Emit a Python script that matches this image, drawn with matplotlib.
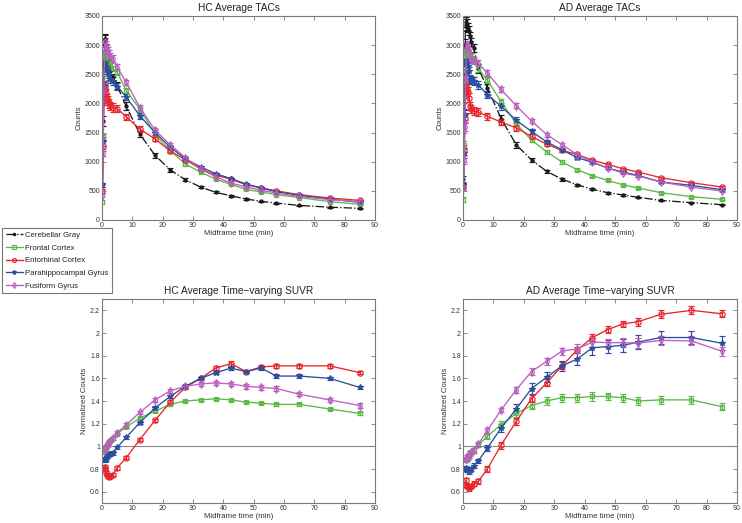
import matplotlib
matplotlib.use("Agg")
import matplotlib.pyplot as plt
from matplotlib.ticker import FuncFormatter

plt.rcParams['font.family'] = ['Liberation Sans', 'DejaVu Sans']

# ---------------- data ----------------
regions = ["Cerebellar Gray", "Frontal Cortex", "Entorhinal Cortex",
           "Parahippocampal Gyrus", "Fusiform Gyrus"]

t_tac = [0.125, 0.375, 0.625, 0.875, 1.125, 1.375, 1.625, 1.875, 2.25, 2.75,
         3.5, 5, 8, 12.5, 17.5, 22.5, 27.5, 32.5, 37.5, 42.5, 47.5, 52.5,
         57.5, 65, 75, 85]
t_suvr = [0.875, 1.125, 1.375, 1.625, 1.875, 2.25, 2.75, 3.5, 5, 8, 12.5,
          17.5, 22.5, 27.5, 32.5, 37.5, 42.5, 47.5, 52.5, 57.5, 65, 75, 85]

# HC TACs
hc_cer = [600, 1700, 2700, 3100, 3100, 2950, 2800, 2750, 2650, 2550, 2450, 2300, 1950,
          1470, 1110, 860, 690, 565, 475, 415, 360, 320, 290, 250, 220, 200]
hc_fro = [310, 1420, 2500, 2800, 2850, 2800, 2750, 2700, 2680, 2650, 2600, 2540, 2220,
          1900, 1470, 1190, 960, 820, 700, 610, 525, 480, 435, 385, 315, 270]
hc_ent = [500, 1270, 2050, 2300, 2250, 2180, 2100, 2050, 2000, 1960, 1930, 1910, 1770,
          1560, 1390, 1185, 1035, 875, 770, 700, 606, 550, 500, 435, 377, 337]
hc_par = [600, 1350, 2300, 2650, 2700, 2650, 2580, 2540, 2480, 2420, 2380, 2290, 2110,
          1785, 1500, 1250, 1050, 910, 795, 710, 618, 549, 486, 423, 360, 303]
hc_fus = [420, 1150, 2250, 2900, 3050, 3000, 2950, 2900, 2850, 2800, 2770, 2620, 2360,
          1930, 1540, 1290, 1070, 875, 740, 635, 566, 510, 463, 405, 350, 315]

hc_cer_err = [40, 80, 100, 90, 80, 70, 70, 70, 70, 60, 60, 60, 70, 50, 40, 30, 25, 20, 15, 15, 12, 12, 10, 10, 10, 10]
hc_fro_err = [30, 60, 60, 60, 60, 55, 55, 55, 50, 50, 50, 45, 45, 40, 35, 30, 25, 20, 18, 15, 15, 12, 12, 12, 10, 10]
hc_ent_err = [40, 80, 80, 70, 70, 70, 70, 70, 70, 70, 70, 60, 50, 45, 40, 30, 25, 20, 18, 15, 15, 12, 12, 12, 10, 10]
hc_par_err = [40, 80, 80, 70, 70, 70, 70, 70, 70, 70, 65, 60, 50, 45, 40, 30, 25, 20, 18, 15, 15, 12, 12, 12, 10, 10]
hc_fus_err = [30, 60, 70, 70, 70, 65, 60, 60, 60, 60, 55, 50, 45, 40, 35, 30, 25, 20, 18, 15, 15, 12, 12, 12, 10, 10]

# AD TACs
ad_cer = [700, 2000, 3000, 3350, 3400, 3350, 3300, 3250, 3150, 3050, 2950, 2600, 2270,
          1740, 1290, 1030, 835, 700, 606, 526, 469, 429, 389, 337, 297, 263]
ad_fro = [350, 1280, 2500, 2850, 2900, 2880, 2850, 2820, 2800, 2780, 2740, 2600, 2400,
          2030, 1650, 1370, 1170, 995, 864, 760, 680, 605, 549, 469, 400, 355]
ad_ent = [560, 1200, 1750, 2200, 2300, 2250, 2200, 2100, 1950, 1900, 1870, 1850, 1780,
          1680, 1580, 1435, 1300, 1195, 1125, 1025, 955, 880, 823, 726, 640, 566]
ad_par = [600, 1150, 1800, 2500, 2750, 2700, 2650, 2550, 2420, 2400, 2380, 2320, 2150,
          1950, 1710, 1520, 1340, 1205, 1070, 990, 890, 823, 766, 652, 595, 520]
ad_fus = [560, 1030, 1600, 2450, 2950, 3000, 2970, 2910, 2800, 2760, 2740, 2690, 2520,
          2240, 1960, 1700, 1465, 1295, 1120, 1000, 890, 806, 755, 652, 566, 497]

ad_cer_err = [60, 100, 110, 100, 90, 90, 80, 80, 80, 70, 70, 70, 70, 60, 50, 40, 30, 25, 20, 18, 15, 15, 12, 12, 12, 10]
ad_fro_err = [40, 70, 70, 70, 65, 65, 60, 60, 60, 60, 55, 55, 55, 50, 45, 35, 30, 28, 25, 20, 18, 15, 15, 15, 15, 15]
ad_ent_err = [50, 90, 90, 80, 80, 80, 75, 75, 70, 70, 70, 65, 60, 55, 50, 40, 35, 30, 28, 25, 22, 20, 20, 18, 18, 18]
ad_par_err = [50, 90, 90, 80, 80, 80, 75, 75, 70, 70, 70, 65, 60, 55, 50, 40, 35, 30, 28, 25, 22, 20, 20, 18, 18, 18]
ad_fus_err = [40, 70, 80, 80, 75, 70, 70, 65, 65, 60, 60, 55, 55, 50, 45, 40, 35, 30, 28, 25, 22, 20, 20, 18, 18, 18]

# HC SUVR
hc_s_fro = [0.95, 0.97, 0.99, 1.00, 1.02, 1.04, 1.05, 1.07, 1.11, 1.17, 1.25, 1.31,
            1.37, 1.40, 1.41, 1.42, 1.41, 1.39, 1.38, 1.37, 1.37, 1.33, 1.29]
hc_s_ent = [0.82, 0.80, 0.77, 0.75, 0.74, 0.73, 0.74, 0.75, 0.81, 0.90, 1.06, 1.23,
            1.39, 1.52, 1.60, 1.69, 1.73, 1.66, 1.70, 1.71, 1.71, 1.71, 1.65]
hc_s_par = [0.89, 0.88, 0.89, 0.91, 0.92, 0.93, 0.93, 0.94, 0.99, 1.08, 1.21, 1.34,
            1.44, 1.53, 1.60, 1.65, 1.69, 1.66, 1.69, 1.62, 1.62, 1.60, 1.52]
hc_s_fus = [0.97, 0.98, 1.00, 1.01, 1.02, 1.04, 1.05, 1.07, 1.12, 1.19, 1.30, 1.41,
            1.49, 1.53, 1.55, 1.56, 1.55, 1.53, 1.52, 1.51, 1.46, 1.41, 1.36]
hc_s_fro_err = [0.01, 0.01, 0.01, 0.01, 0.01, 0.01, 0.01, 0.01, 0.01, 0.01, 0.01, 0.01,
                0.01, 0.01, 0.01, 0.01, 0.01, 0.01, 0.01, 0.01, 0.01, 0.01, 0.01]
hc_s_ent_err = [0.015, 0.015, 0.015, 0.015, 0.015, 0.015, 0.015, 0.015, 0.015, 0.015, 0.015, 0.015,
                0.015, 0.015, 0.015, 0.015, 0.02, 0.015, 0.015, 0.015, 0.015, 0.015, 0.015]
hc_s_par_err = [0.015, 0.015, 0.015, 0.015, 0.015, 0.015, 0.015, 0.015, 0.015, 0.015, 0.015, 0.015,
                0.015, 0.015, 0.015, 0.015, 0.015, 0.015, 0.015, 0.015, 0.015, 0.015, 0.015]
hc_s_fus_err = [0.015, 0.015, 0.015, 0.015, 0.015, 0.015, 0.015, 0.015, 0.015, 0.015, 0.015, 0.015,
                0.02, 0.02, 0.02, 0.02, 0.02, 0.02, 0.02, 0.02, 0.02, 0.02, 0.02]

# AD SUVR
ad_s_fro = [0.88, 0.89, 0.89, 0.90, 0.92, 0.94, 0.95, 0.965, 1.01, 1.09, 1.19, 1.29,
            1.36, 1.40, 1.43, 1.43, 1.44, 1.44, 1.43, 1.40, 1.41, 1.41, 1.35]
ad_s_ent = [0.70, 0.66, 0.65, 0.64, 0.63, 0.64, 0.65, 0.67, 0.69, 0.80, 1.01, 1.22,
            1.42, 1.56, 1.71, 1.85, 1.96, 2.03, 2.08, 2.10, 2.165, 2.20, 2.17]
ad_s_par = [0.81, 0.80, 0.79, 0.79, 0.78, 0.79, 0.80, 0.83, 0.87, 0.985, 1.16, 1.33,
            1.51, 1.61, 1.71, 1.77, 1.87, 1.88, 1.89, 1.92, 1.96, 1.96, 1.91]
ad_s_fus = [0.885, 0.89, 0.90, 0.91, 0.92, 0.935, 0.95, 0.965, 1.02, 1.14, 1.32, 1.50,
            1.66, 1.75, 1.84, 1.86, 1.92, 1.915, 1.915, 1.91, 1.935, 1.93, 1.84]
ad_s_fro_err = [0.02, 0.02, 0.02, 0.02, 0.02, 0.02, 0.02, 0.02, 0.02, 0.025, 0.03, 0.03,
                0.035, 0.035, 0.035, 0.035, 0.04, 0.035, 0.035, 0.035, 0.035, 0.035, 0.03]
ad_s_ent_err = [0.02, 0.02, 0.02, 0.02, 0.02, 0.02, 0.02, 0.02, 0.02, 0.025, 0.03, 0.03,
                0.03, 0.03, 0.03, 0.03, 0.03, 0.03, 0.03, 0.035, 0.035, 0.035, 0.03]
ad_s_par_err = [0.02, 0.02, 0.02, 0.02, 0.02, 0.02, 0.02, 0.02, 0.02, 0.025, 0.035, 0.04,
                0.05, 0.045, 0.045, 0.05, 0.06, 0.06, 0.06, 0.065, 0.06, 0.055, 0.06]
ad_s_fus_err = [0.02, 0.02, 0.02, 0.02, 0.02, 0.02, 0.02, 0.02, 0.02, 0.02, 0.02, 0.025,
                0.03, 0.03, 0.03, 0.04, 0.04, 0.035, 0.04, 0.045, 0.04, 0.04, 0.04]

tac_xticks = [0, 10, 20, 30, 40, 50, 60, 70, 80, 90]
tac_yticks = [0, 500, 1000, 1500, 2000, 2500, 3000, 3500]
suvr_yticks = [0.6, 0.8, 1.0, 1.2, 1.4, 1.6, 1.8, 2.0, 2.2]

# ---------------- styles ----------------
colors = ["#1a1a1a", "#5cb947", "#e8252d", "#2a4ea0", "#bb5fc0"]
markers = [".", "s", "o", "*", "d"]
lstyles = ["-.", "-", "-", "-", "-"]

W, H = 742, 523
fig = plt.figure(figsize=(W / 100, H / 100), dpi=100)


def ax_at(l, t, r, b):
    return fig.add_axes([l / W, 1 - b / H, (r - l) / W, (b - t) / H])


spine_c = "#7a7a7a"
text_c = "#333333"
TICK_FS = 5
LABEL_FS = 5.6
TITLE_FS = 7.3


def style(ax):
    for s in ax.spines.values():
        s.set_color(spine_c)
        s.set_linewidth(0.8)
    ax.tick_params(direction="in", top=True, right=True, length=3,
                   width=0.6, color=spine_c, labelsize=TICK_FS, labelcolor=text_c, pad=1.5)


def draw(ax, x, series, errs):
    handles = []
    for i, (y, e) in enumerate(zip(series, errs)):
        if y is None:
            continue
        m = markers[i]
        ms = {".": 4.5, "s": 3.5, "o": 3.8, "*": 4.2, "d": 4.0}[m]
        cont = ax.errorbar(x, y, yerr=e, color=colors[i], ls=lstyles[i], lw=0.95,
                           marker=m, ms=ms, mfc="none" if m in "sod" else colors[i],
                           mec=colors[i], mew=0.85, elinewidth=0.85, capsize=2.2,
                           capthick=0.85, label=regions[i])
        handles.append(cont[0])
    return handles


def finish(ax, title, ylabel):
    ax.set_title(title, fontsize=TITLE_FS, color="#222222", pad=3.5)
    ax.set_xlim(0, 90)
    ax.set_xticks(tac_xticks)
    ax.set_xlabel("Midframe time (min)", fontsize=LABEL_FS, color=text_c, labelpad=0.8)
    ax.set_ylabel(ylabel, fontsize=LABEL_FS, color=text_c, labelpad=1.2)
    style(ax)


# Top-left: HC TACs
ax1 = ax_at(102, 16, 375, 220)
hs = draw(ax1, t_tac, [hc_cer, hc_fro, hc_ent, hc_par, hc_fus],
          [hc_cer_err, hc_fro_err, hc_ent_err, hc_par_err, hc_fus_err])
# Top-right: AD TACs
ax2 = ax_at(463, 16, 737, 220)
draw(ax2, t_tac, [ad_cer, ad_fro, ad_ent, ad_par, ad_fus],
     [ad_cer_err, ad_fro_err, ad_ent_err, ad_par_err, ad_fus_err])

for ax, title in ((ax1, "HC Average TACs"), (ax2, "AD Average TACs")):
    ax.set_ylim(0, 3500)
    ax.set_yticks(tac_yticks)
    finish(ax, title, "Counts")

# Bottom-left: HC SUVR
ax3 = ax_at(102, 299, 375, 503)
draw(ax3, t_suvr, [None, hc_s_fro, hc_s_ent, hc_s_par, hc_s_fus],
     [None, hc_s_fro_err, hc_s_ent_err, hc_s_par_err, hc_s_fus_err])
# Bottom-right: AD SUVR
ax4 = ax_at(463, 299, 737, 503)
draw(ax4, t_suvr, [None, ad_s_fro, ad_s_ent, ad_s_par, ad_s_fus],
     [None, ad_s_fro_err, ad_s_ent_err, ad_s_par_err, ad_s_fus_err])

for ax, title in ((ax3, "HC Average Time\u2212varying SUVR"),
                  (ax4, "AD Average Time\u2212varying SUVR")):
    ax.axhline(1.0, color="#8a8a8a", lw=0.8, zorder=0)
    ax.set_ylim(0.5, 2.3)
    ax.set_yticks(suvr_yticks)
    ax.yaxis.set_major_formatter(FuncFormatter(lambda v, p: "%g" % round(v, 2)))
    finish(ax, title, "Normalized Counts")

leg = fig.legend(handles=hs, labels=regions, loc="upper left",
                 bbox_to_anchor=(2 / W, 1 - 228 / H), borderaxespad=0,
                 fontsize=5.6, frameon=True, fancybox=False, handlelength=2.2,
                 handletextpad=0.3, labelspacing=0.68, borderpad=0.45,
                 markerscale=0.75)
leg.get_frame().set_edgecolor("#555555")
leg.get_frame().set_linewidth(0.8)
for txt in leg.get_texts():
    txt.set_color("#222222")

fig.savefig("out.png", dpi=100)
